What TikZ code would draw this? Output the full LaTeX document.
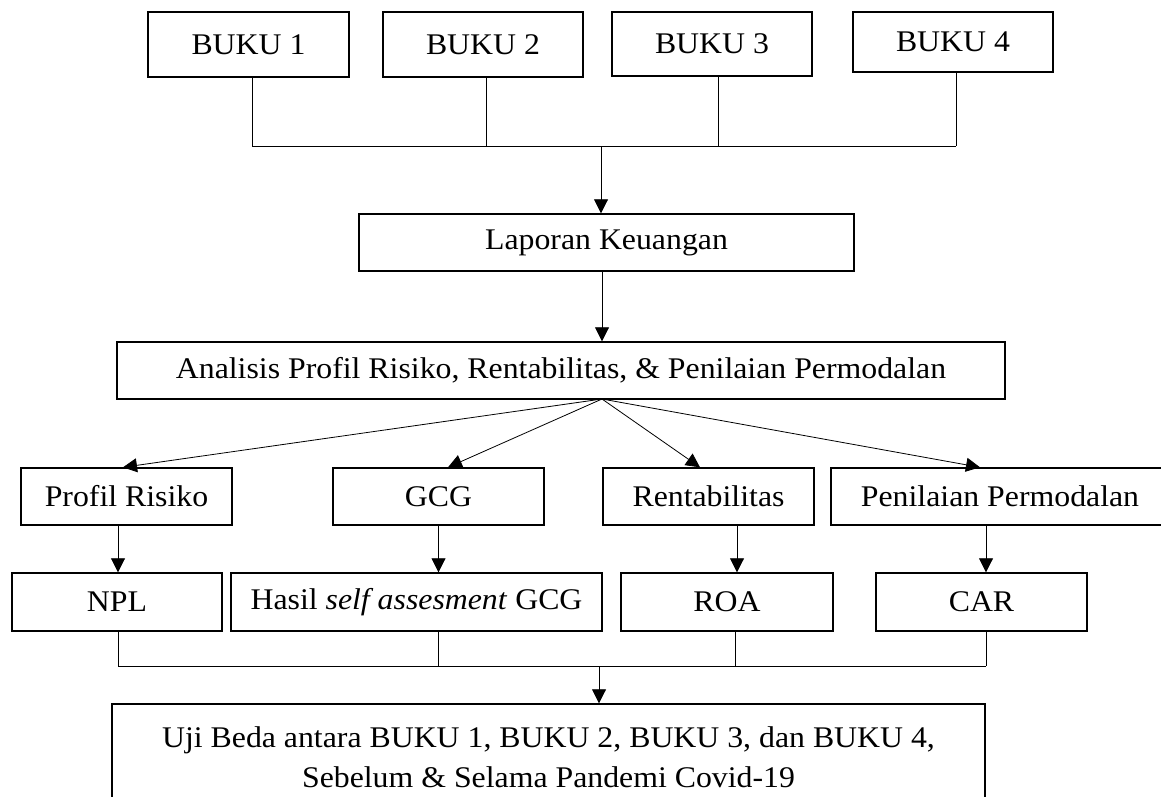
\documentclass[tikz,border=0pt]{standalone}
\usepackage{fontspec}
\setmainfont{Liberation Serif}[FakeStretch=1.06]
\usetikzlibrary{arrows.meta,calc}
\begin{document}
\begin{tikzpicture}[x=1pt,y=-1pt,
  box/.style={draw,line width=1.4pt,inner sep=0pt,align=center,font=\fontsize{30}{40}\selectfont},
  conn/.style={line width=0.8pt},
  arr/.style={conn,-{Triangle[width=14pt,length=14pt]}}]
\clip (0,0) rectangle (1161,796);
% row 1
\node[box,minimum width=201pt,minimum height=65pt] (b1) at (248.5,44.5) {BUKU 1};
\node[box,minimum width=200pt,minimum height=65pt] (b2) at (483,44.5) {BUKU 2};
\node[box,minimum width=200pt,minimum height=64pt] (b3) at (712,44) {BUKU 3};
\node[box,minimum width=200pt,minimum height=60pt] (b4) at (953,42) {BUKU 4};
% middle
\node[box,minimum width=495pt,minimum height=57pt] (lap) at (606.5,242.5) {Laporan Keuangan};
\node[box,minimum width=888pt,minimum height=57pt] (ana) at (561,370.5) {Analisis Profil Risiko, Rentabilitas, \& Penilaian Permodalan};
% row 2
\node[box,minimum width=211pt,minimum height=57pt] (pr) at (126.5,496.5) {Profil Risiko};
\node[box,minimum width=211pt,minimum height=57pt] (gcg) at (438.5,496.5) {GCG};
\node[box,minimum width=211pt,minimum height=57pt] (ren) at (708.5,496.5) {Rentabilitas};
\node[box,minimum width=338pt,minimum height=57pt] (pen) at (1000,496.5) {Penilaian Permodalan};
% row 3
\node[box,minimum width=210pt,minimum height=58pt] (npl) at (117,602) {NPL};
\node[box,minimum width=371pt,minimum height=58pt] (has) at (416.5,602) {Hasil \textit{self assesment} GCG};
\node[box,minimum width=212pt,minimum height=58pt] (roa) at (727,602) {ROA};
\node[box,minimum width=211pt,minimum height=58pt] (car) at (981.5,602) {CAR};
% bottom
\node[box,minimum width=873pt,minimum height=106pt] (uji) at (548.5,757) {Uji Beda antara BUKU 1, BUKU 2, BUKU 3, dan BUKU 4,\\Sebelum \& Selama Pandemi Covid-19};
% helper coordinates
\coordinate (x1) at (252,146);
\coordinate (x2) at (486,146);
\coordinate (x3) at (718,146);
\coordinate (x4) at (956,146);
\coordinate (tb) at (601,146);
\coordinate (fo) at (602,399);
\coordinate (y1) at (118,666);
\coordinate (y2) at (438,666);
\coordinate (y3) at (735,666);
\coordinate (y4) at (986,666);
\coordinate (bb) at (599,666);
\coordinate (xr) at (737,0);
\coordinate (xc) at (986,0);
% top bus
\draw[conn] (b1.south -| x1) -- (x1);
\draw[conn] (b2.south -| x2) -- (x2);
\draw[conn] (b3.south -| x3) -- (x3);
\draw[conn] (b4.south -| x4) -- (x4);
\draw[conn] (x1) -- (x4);
\draw[arr] (tb) -- (tb |- lap.north);
\draw[arr] (lap.south -| fo) -- (fo |- ana.north);
% fan
\draw[arr] (fo) -- ($(pr.north)+(-3.5,0)$);
\draw[arr] (fo) -- ($(gcg.north)+(9.5,0)$);
\draw[arr] (fo) -- ($(ren.north)+(-8.5,0)$);
\draw[arr] (fo) -- ($(pen.north)+(-20,0)$);
% row2 -> row3
\draw[arr] (pr.south -| y1) -- (npl.north -| y1);
\draw[arr] (gcg.south) -- (gcg.south |- has.north);
\draw[arr] (ren.south -| xr) -- (roa.north -| xr);
\draw[arr] (pen.south -| xc) -- (car.north -| xc);
% bottom bus
\draw[conn] (npl.south -| y1) -- (y1);
\draw[conn] (has.south -| y2) -- (y2);
\draw[conn] (roa.south -| y3) -- (y3);
\draw[conn] (car.south -| y4) -- (y4);
\draw[conn] (y1) -- (y4);
\draw[arr] (bb) -- (bb |- uji.north);
\end{tikzpicture}
\end{document}
